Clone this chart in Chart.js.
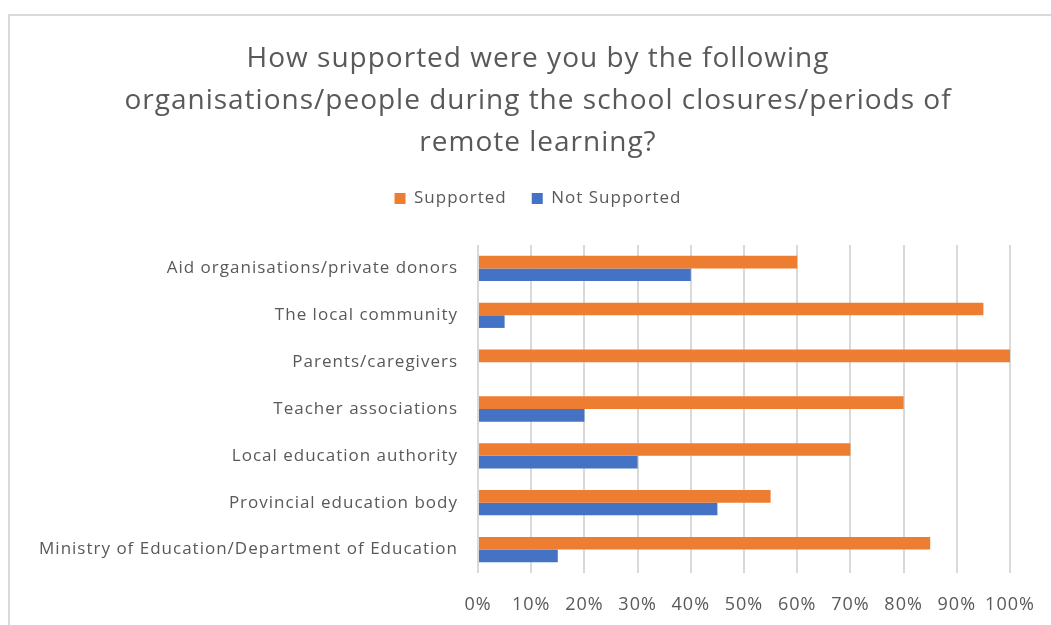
<!DOCTYPE html>
<html>
<head>
<meta charset="utf-8">
<script src="https://cdn.jsdelivr.net/npm/chart.js@4"></script>
<style>
  html, body { margin: 0; padding: 0; background: #fff; }
  #wrap { position: relative; width: 1051px; height: 625px; overflow: hidden; }
  #frame { position: absolute; left: 8px; top: 14px; width: 1200px; height: 800px; border: 2px solid #d9d9d9; }
  canvas { position: absolute; left: 0; top: 0; }
</style>
</head>
<body>
<div id="wrap">
  <div id="frame"></div>
  <canvas id="chart" width="1051" height="625"></canvas>
</div>
<script>
(function () {
  'use strict';

  const titleLines = [
    'How supported were you by the following',
    'organisations/people during the school closures/periods of',
    'remote learning?'
  ];
  const categories = [
    'Aid organisations/private donors',
    'The local community',
    'Parents/caregivers',
    'Teacher associations',
    'Local education authority',
    'Provincial education body',
    'Ministry of Education/Department of Education'
  ];
  const supported = [60, 95, 100, 80, 70, 55, 85];
  const notSupported = [40, 5, 0, 20, 30, 45, 15];

  const textColor = '#595959';
  const fontFamily = '"Open Sans", "Noto Sans", sans-serif';

  // the original text is set a bit wider than Open Sans, widen it a little
  const spacing = {
    id: 'spacing',
    beforeLayout(chart) { chart.ctx.letterSpacing = '1px'; },
    beforeDraw(chart) { chart.ctx.letterSpacing = '1px'; }
  };

  // title and legend are centred on the framed box, which starts further right
  const headerShift = {
    id: 'headerShift',
    afterLayout(chart) {
      if (chart.titleBlock) chart.titleBlock.left = 66;
      if (chart.legend) chart.legend.left = 66;
    }
  };

  const ctx = document.getElementById('chart').getContext('2d');
  new Chart(ctx, {
    type: 'bar',
    data: {
      labels: categories,
      datasets: [{
        label: 'Supported',
        data: supported,
        backgroundColor: '#ED7D31',
        categoryPercentage: 0.54,
        barPercentage: 1.0
      }, {
        label: 'Not Supported',
        data: notSupported,
        backgroundColor: '#4472C4',
        categoryPercentage: 0.54,
        barPercentage: 1.0
      }]
    },
    plugins: [spacing, headerShift],
    options: {
      indexAxis: 'y',
      responsive: false,
      animation: false,
      layout: { padding: { left: 0, right: 41, top: 0, bottom: 0 } },
      scales: {
        x: {
          min: 0,
          max: 100,
          ticks: {
            stepSize: 10,
            color: textColor,
            padding: 21,
            maxRotation: 0,
            minRotation: 0,
            autoSkip: false,
            font: { family: fontFamily, size: 18 },
            callback: v => v + '%'
          },
          grid: { color: '#d9d9d9', lineWidth: 2, drawTicks: false },
          border: { display: false },
          afterFit: s => { s.height = 52; s.paddingLeft = 0; s.paddingRight = 0; }
        },
        y: {
          ticks: {
            color: textColor,
            padding: 20,
            font: { family: fontFamily, size: 17 }
          },
          grid: { display: false, drawTicks: false },
          border: { display: false },
          afterFit: s => { s.width = 478; }
        }
      },
      plugins: {
        title: {
          display: true,
          text: titleLines,
          color: textColor,
          padding: { top: 38, bottom: 1 },
          font: { family: fontFamily, size: 28, weight: 'normal', lineHeight: 1.5 }
        },
        subtitle: {
          // empty spacer between legend and plot
          display: true,
          text: ' ',
          weight: 500,
          padding: { top: 0, bottom: 17 },
          font: { size: 10, lineHeight: 1.1 }
        },
        legend: {
          display: true,
          position: 'top',
          labels: {
            color: textColor,
            boxWidth: 11,
            boxHeight: 11,
            padding: 25,
            font: { family: fontFamily, size: 17 }
          }
        },
        tooltip: { enabled: false }
      }
    }
  });
})();
</script>
</body>
</html>
